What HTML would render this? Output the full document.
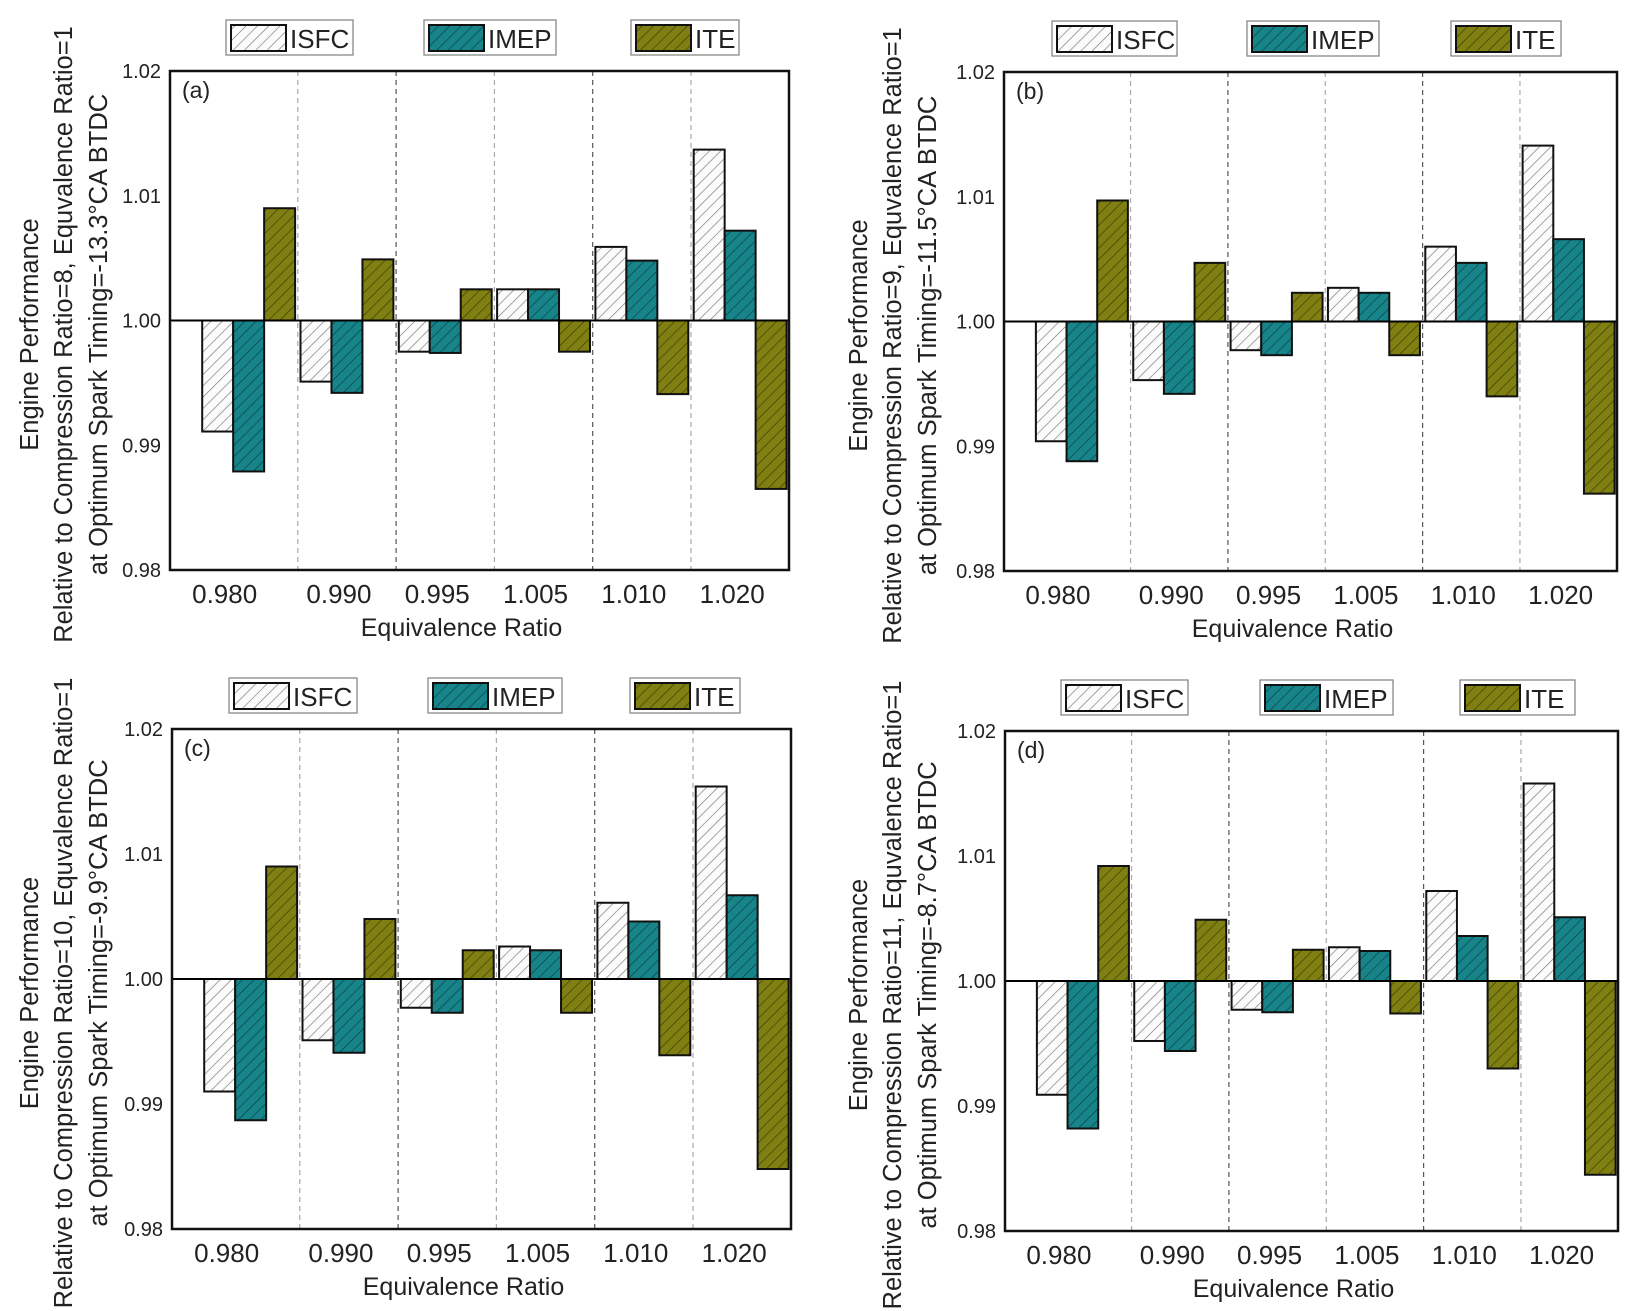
<!DOCTYPE html>
<html><head><meta charset="utf-8"><style>
html,body{margin:0;padding:0;background:#fff}
svg{display:block;font-family:"Liberation Sans",Arial,sans-serif}
</style></head><body>
<svg id="fig" width="1635" height="1311" viewBox="0 0 1635 1311" xmlns="http://www.w3.org/2000/svg">
<defs>
<pattern id="hatchW" patternUnits="userSpaceOnUse" width="8" height="8" patternTransform="rotate(45)"><rect width="8" height="8" fill="#fbfbfb"/><line x1="0" y1="0" x2="0" y2="8" stroke="#777" stroke-width="1.3"/></pattern>
<pattern id="hatchT" patternUnits="userSpaceOnUse" width="8" height="8" patternTransform="rotate(45)"><rect width="8" height="8" fill="#17848a"/><line x1="0" y1="0" x2="0" y2="8" stroke="#0b3c40" stroke-width="1.3"/></pattern>
<pattern id="hatchO" patternUnits="userSpaceOnUse" width="8" height="8" patternTransform="rotate(45)"><rect width="8" height="8" fill="#7f7f12"/><line x1="0" y1="0" x2="0" y2="8" stroke="#3a3a05" stroke-width="1.3"/></pattern>
</defs>
</svg>
<script>
const categories = ["0.980","0.990","0.995","1.005","1.010","1.020"];
const yTicks = [0.98, 0.99, 1.00, 1.01, 1.02];
const yTickLabels = ["0.98","0.99","1.00","1.01","1.02"];
const seriesNames = ["ISFC","IMEP","ITE"];
const isfcA = [0.9911, 0.9951, 0.9975, 1.0025, 1.0059, 1.0137];
const imepA = [0.9879, 0.9942, 0.9974, 1.0025, 1.0048, 1.0072];
const iteA  = [1.0090, 1.0049, 1.0025, 0.9975, 0.9941, 0.9865];
const isfcB = [0.9904, 0.9953, 0.9977, 1.0027, 1.0060, 1.0141];
const imepB = [0.9888, 0.9942, 0.9973, 1.0023, 1.0047, 1.0066];
const iteB  = [1.0097, 1.0047, 1.0023, 0.9973, 0.9940, 0.9862];
const isfcC = [0.9910, 0.9951, 0.9977, 1.0026, 1.0061, 1.0154];
const imepC = [0.9887, 0.9941, 0.9973, 1.0023, 1.0046, 1.0067];
const iteC  = [1.0090, 1.0048, 1.0023, 0.9973, 0.9939, 0.9848];
const isfcD = [0.9909, 0.9952, 0.9977, 1.0027, 1.0072, 1.0158];
const imepD = [0.9882, 0.9944, 0.9975, 1.0024, 1.0036, 1.0051];
const iteD  = [1.0092, 1.0049, 1.0025, 0.9974, 0.9930, 0.9845];

const NS = "http://www.w3.org/2000/svg";
const svg = document.getElementById("fig");
function mk(tag, attrs, parent, text){
  const e = document.createElementNS(NS, tag);
  for (const k in attrs) e.setAttribute(k, attrs[k]);
  if (text !== undefined) e.textContent = text;
  (parent || svg).appendChild(e);
  return e;
}
const fills = ["url(#hatchW)","url(#hatchT)","url(#hatchO)"];

const panels = [
  {id:"a", L:170, R:789, T:71, B:570, data:[isfcA,imepA,iteA], ratio:"8", timing:"-13.3",
   leg:[[226,353],[424,556],[631,739]], legY:20, titleX:[29,63,98]},
  {id:"b", L:1004, R:1617, T:72, B:571, data:[isfcB,imepB,iteB], ratio:"9", timing:"-11.5",
   leg:[[1052,1177],[1247,1379],[1451,1561]], legY:21, titleX:[858,892,927]},
  {id:"c", L:172, R:791, T:729, B:1229, data:[isfcC,imepC,iteC], ratio:"10", timing:"-9.9",
   leg:[[229,357],[428,562],[630,740]], legY:678, titleX:[29,63,98]},
  {id:"d", L:1005, R:1618, T:731, B:1231, data:[isfcD,imepD,iteD], ratio:"11", timing:"-8.7",
   leg:[[1061,1188],[1260,1393],[1460,1575]], legY:680, titleX:[858,892,927]}
];

panels.forEach(p => {
  const g = mk("g", {});
  
  
  const W = p.R - p.L;
  const slot = W * 98.3 / 619;
  const pad = W * 29.5 / 619;
  const xCenter = i => p.L + pad + slot * (i + 0.5);
  const yScale = v => p.B - (v - 0.98) / 0.04 * (p.B - p.T);
  const barW = slot * 0.315;

  for (let i = 0; i < categories.length - 1; i++) {
    const x = xCenter(i) + slot / 2;
    const s = mk("line", {x1:x, x2:x, y1:p.T, y2:p.B, stroke: i%2 ? "#555" : "#aaa", "stroke-width":1.2, "stroke-dasharray":"5,4"}, g);
    
    
  }
  const y0 = yScale(1.0);
  p.data.forEach((arr, si) => {
    arr.forEach((v, i) => {
      const x = xCenter(i) - 1.5 * barW + si * barW;
      const yv = yScale(v);
      const r = mk("rect", {x:x, y:Math.min(yv, y0), width:barW, height:Math.abs(y0 - yv), fill:fills[si], stroke:"#111", "stroke-width":2}, g);
      
      
    });
  });
  const zl = mk("line", {x1:p.L, x2:p.R, y1:y0, y2:y0, stroke:"#000", "stroke-width":2}, g);
  
  
  const fr = mk("rect", {x:p.L, y:p.T, width:W, height:p.B - p.T, fill:"none", stroke:"#111", "stroke-width":2.5}, g);
  
  
  yTicks.forEach((v, i) => {
    const t = mk("text", {x:p.L - 9, y:yScale(v) + 7, "font-size":20, "text-anchor":"end", fill:"#222"}, g, yTickLabels[i]);
    
    
  });
  categories.forEach((c, i) => {
    const t = mk("text", {x:xCenter(i) - 8 - (i === 0 ? 16 : 0), y:p.B + 33, "font-size":26, "text-anchor":"middle", fill:"#222"}, g, c);
    
    
  });
  const xt = mk("text", {x:(p.L + p.R) / 2 - 18, y:p.B + 66, "font-size":25, "text-anchor":"middle", fill:"#222"}, g, "Equivalence Ratio");
  
  
  const pl = mk("text", {x:p.L + 12, y:p.T + 27, "font-size":23, fill:"#222"}, g, "(" + p.id + ")");
  
  
  const lines = ["Engine Performance",
    "Relative to Compression Ratio=" + p.ratio + ", Equvalence Ratio=1",
    "at Optimum Spark Timing=" + p.timing + "\u00B0CA BTDC"];
  const cy = (p.T + p.B) / 2 + 14;
  lines.forEach((ln, i) => {
    const t = mk("text", {x:0, y:0, "font-size":25.5, "text-anchor":"middle", fill:"#222",
      transform:"translate(" + (p.titleX[i] + 9) + "," + cy + ") rotate(-90)"}, g, ln);
    
    
  });
  p.leg.forEach((lg, si) => {
    const lgG = mk("g", {}, g);
    
    
    mk("rect", {x:lg[0], y:p.legY, width:lg[1] - lg[0], height:35, fill:"#fff", stroke:"#888", "stroke-width":1.3}, lgG);
    mk("rect", {x:lg[0] + 5, y:p.legY + 5, width:55, height:26, fill:fills[si], stroke:"#111", "stroke-width":2}, lgG);
    mk("text", {x:lg[0] + 64, y:p.legY + 28, "font-size":26, fill:"#222"}, lgG, seriesNames[si]);
  });
});
</script>
</body></html>
